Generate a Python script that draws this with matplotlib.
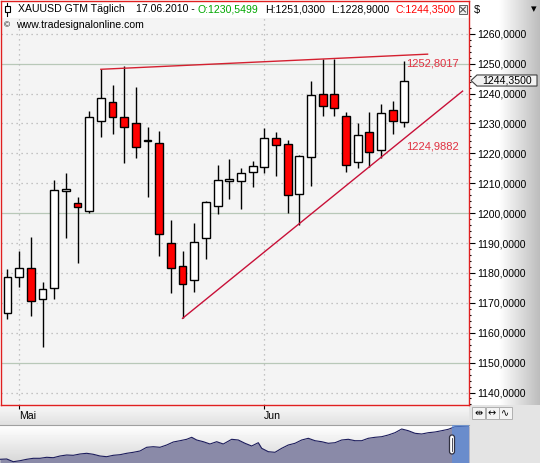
import numpy as np
import matplotlib.pyplot as plt
from matplotlib.patches import Rectangle, Polygon, FancyBboxPatch
from matplotlib.ticker import FixedLocator, FuncFormatter

plt.rcParams["font.family"] = ["Liberation Sans", "DejaVu Sans"]

# daily XAUUSD candles, 30.04.2010 .. 17.06.2010
opens  = [1166.5, 1178.5, 1181.5, 1171.3, 1174.8, 1207.5, 1203.3, 1200.6, 1230.7, 1237.1,
          1232.0, 1230.0, 1224.0, 1223.3, 1189.9, 1182.3, 1177.6, 1191.6, 1202.4, 1210.6,
          1210.6, 1213.6, 1215.5, 1225.0, 1223.0, 1206.3, 1218.7, 1239.8, 1239.8, 1232.4,
          1217.0, 1227.0, 1221.0, 1234.4, 1230.5499]
highs  = [1181.2, 1187.3, 1191.9, 1176.9, 1211.1, 1213.5, 1205.4, 1234.1, 1248.1, 1242.8,
          1249.2, 1242.1, 1228.7, 1227.6, 1197.7, 1187.3, 1196.6, 1204.1, 1216.1, 1218.1,
          1215.1, 1217.4, 1228.6, 1227.0, 1224.4, 1219.4, 1244.2, 1251.4, 1251.4, 1233.9,
          1230.0, 1233.8, 1236.5, 1237.5, 1251.03]
lows   = [1164.5, 1175.4, 1165.7, 1155.3, 1171.2, 1191.6, 1183.2, 1199.9, 1225.4, 1226.4,
          1216.7, 1218.3, 1205.5, 1185.7, 1173.4, 1164.8, 1173.7, 1184.5, 1199.7, 1204.6,
          1201.3, 1208.6, 1213.5, 1212.5, 1200.1, 1196.0, 1209.2, 1232.6, 1232.6, 1213.6,
          1215.0, 1215.5, 1218.3, 1226.4, 1228.9]
closes = [1178.5, 1181.5, 1170.5, 1174.5, 1207.6, 1207.9, 1201.9, 1232.0, 1238.4, 1232.0,
          1228.7, 1222.0, 1224.4, 1192.9, 1181.7, 1176.2, 1190.2, 1203.7, 1211.1, 1211.3,
          1213.3, 1215.7, 1225.0, 1222.7, 1206.0, 1219.0, 1239.5, 1235.9, 1235.1, 1216.0,
          1226.0, 1220.3, 1233.4, 1230.7, 1244.35]

month_labels = ["Mai", "Jun"]
month_idx = [1, 22]
price_ticks = list(range(1140, 1261, 10))

# trend lines (bar index, price)
res_x, res_y = [8, 36], [1248.1, 1253.16]
sup_x, sup_y = [15, 39], [1164.8, 1240.8]
res_label, sup_label = "1252,8017", "1224,9882"

# navigator (overview) series
nav_t = [0, 6.7, 13.3, 20, 26.7, 33.3, 40, 46.7, 53.3, 60, 66.7, 73.3, 80, 86.7, 93.3, 100,
         106.7, 113.3, 120, 126.7, 133.3, 140, 146.7, 153.3, 160, 166.7, 173.3, 180, 186.7,
         191.7, 196.7, 203.3, 210, 216.7, 223.3, 231.7, 238.3, 245, 251.7, 258.3, 261.7,
         268.3, 275, 281.7, 288.3, 295, 301.7, 308.3, 315, 321.7, 328.3, 335, 341.7, 348.3,
         355, 361.7, 368.3, 375, 381.7, 388.3, 395, 401.7, 408.3, 415, 421.7, 428.3, 435,
         441.7, 448.3, 455, 469]
nav_level = [3.7, 4, 1.3, 2.3, 3.7, 4.7, 4.7, 5.7, 5.3, 7, 8, 7.7, 9, 9.7, 8.7, 7, 6.3, 7.7,
             8.3, 9.7, 10.7, 12, 15.7, 16.3, 15.7, 18, 21, 22.3, 23.7, 25.7, 23, 21.3, 19,
             21.3, 19, 23.7, 23, 19.7, 17, 20.3, 14.7, 11.3, 10.7, 14.7, 18, 19.7, 23, 24.7,
             22.3, 21.3, 19.7, 20.3, 23, 23.7, 22.3, 22.3, 24.7, 25.7, 26.3, 28, 30.3, 34,
             32.3, 29.7, 29, 30.3, 31, 32.3, 33.7, 36.3, 37]

W, H = 540, 463
fig = plt.figure(figsize=(W / 100, H / 100), dpi=100)


def frect(x0, y0, x1, y1):
    return [x0 / W, 1 - y1 / H, (x1 - x0) / W, (y1 - y0) / H]


# background panels in pixel coordinates
bg = fig.add_axes([0, 0, 1, 1])
bg.set_zorder(0)
bg.axis("off")
hgrad = np.concatenate([np.ones(30), np.linspace(1.0, 0.74, 42)])[None, :]
bg.imshow(hgrad, extent=(469, 540, 405, 0), cmap="gray", vmin=0, vmax=1, aspect="auto")
vgrad = np.linspace(0.97, 0.88, 20)[:, None]
bg.imshow(vgrad, extent=(0, 469, 425, 405), cmap="gray", vmin=0, vmax=1, aspect="auto")
bg.add_patch(Rectangle((469, 405), 71, 58, fc="#e4e4e4", ec="none"))
bg.set_xlim(0, W)
bg.set_ylim(H, 0)
bg.text(474, 9.5, "$", fontsize=8, va="center")
bg.text(531, 9, "▾", fontsize=8, va="center", family="DejaVu Sans")
for i, sym in enumerate(["⇹", "↔", "∿"]):
    bg.add_patch(Rectangle((472 + i * 13.5, 407), 13, 12, fc="#f4f4f4", ec="#b0b0b0", lw=0.7))
    bg.text(478.5 + i * 13.5, 413, sym, fontsize=7, ha="center", va="center", family="DejaVu Sans")

# main price chart
ax = fig.add_axes(frect(1, 1, 469, 405))
ax.set_zorder(2)
ax.set_facecolor("#f4f4f4")
ax.set_xlim(-0.557, 39.55)
ax.set_ylim(1135.82, 1270.94)

for v in price_ticks:
    if v % 50 == 0:
        ax.axhline(v, color="#b8c8b8", lw=0.9, zorder=0.8)
    else:
        ax.axhline(v, color="#b4b4b4", lw=0.9, ls=(0, (1, 3)), zorder=0.8)
for m in month_idx:
    ax.axvline(m, color="#b4b4b4", lw=0.9, ls=(0, (1, 3)), zorder=0.8)

o = np.array(opens)
c = np.array(closes)
idx = np.arange(len(o))
ax.vlines(idx, lows, highs, color="black", lw=1.0, zorder=3)
body_lo = np.minimum(o, c)
body_h = np.maximum(np.abs(c - o), 0.35)
colors = np.where(c < o, "#ff0000", "#ffffff")
ax.bar(idx, body_h, bottom=body_lo, width=0.68, color=colors, edgecolor="black",
       linewidth=1.0, zorder=4)

ax.plot(res_x, res_y, color="#d42030", lw=1.0, zorder=5)
ax.plot(sup_x, sup_y, color="#c81038", lw=1.0, zorder=5)
last = len(o) - 1
res_at = res_y[0] + (last - res_x[0]) * (res_y[1] - res_y[0]) / (res_x[1] - res_x[0])
sup_at = sup_y[0] + (last - sup_x[0]) * (sup_y[1] - sup_y[0]) / (sup_x[1] - sup_x[0])
for val, lab in [(res_at, res_label), (sup_at, sup_label)]:
    ax.annotate(lab, xy=(last, val), xytext=(1.5, -2), textcoords="offset points",
                ha="left", va="top", fontsize=8, color="#e03040", zorder=6)

# right price scale
ax.yaxis.tick_right()
ax.yaxis.set_major_locator(FixedLocator(price_ticks))
ax.yaxis.set_minor_locator(FixedLocator(list(range(1136, 1263, 2))))
ax.yaxis.set_major_formatter(FuncFormatter(lambda v, p: f"{v:.0f},0000"))
ax.tick_params(axis="y", which="major", length=4.5, width=0.8, pad=1.5, labelsize=7.6)
ax.tick_params(axis="y", which="minor", length=1.5, width=0.8)
ax.set_xticks(month_idx)
ax.set_xticklabels(month_labels)
ax.tick_params(axis="x", length=3, width=0.8, pad=1.5, labelsize=7.6)
for lab in ax.get_xticklabels():
    lab.set_horizontalalignment("left")
for sp in ax.spines.values():
    sp.set_color("#e02020")
    sp.set_linewidth(1.0)


def fx(px):
    return (px - 1) / 468


def fy(py):
    return (405 - py) / 404


# header row
ax.add_patch(Rectangle((0, fy(18)), 1, 1 - fy(18), transform=ax.transAxes,
                       fc="#ffffff", ec="none", zorder=1))
ax.plot([fx(7), fx(7)], [fy(3), fy(16)], transform=ax.transAxes, color="black", lw=0.8, zorder=6)
ax.add_patch(Rectangle((fx(4.5), fy(12)), fx(9.5) - fx(4.5), fy(6) - fy(12),
                       transform=ax.transAxes, fc="white", ec="black", lw=0.8, zorder=7))
hy = fy(9.5)
head = [(18, "XAUUSD GTM Täglich", "black"), (135.5, "17.06.2010 -", "black"),
        (197, "O:1230,5499", "#00a800"), (265, "H:1251,0300", "black"),
        (331, "L:1228,9000", "black"), (395, "C:1244,3500", "#ff0000")]
for px, txt, col in head:
    ax.text(fx(px), hy, txt, transform=ax.transAxes, fontsize=7.6, va="center",
            color=col, zorder=6)
ax.add_patch(Rectangle((fx(459), fy(13.5)), fx(467) - fx(459), fy(5.5) - fy(13.5),
                       transform=ax.transAxes, fc="#f0f0f0", ec="#606060", lw=0.7, zorder=6))
ax.plot([fx(460.5), fx(465.5)], [fy(12), fy(7)], transform=ax.transAxes, color="#404040", lw=0.7, zorder=7)
ax.plot([fx(460.5), fx(465.5)], [fy(7), fy(12)], transform=ax.transAxes, color="#404040", lw=0.7, zorder=7)
ax.text(fx(3.5), fy(25.5), "©", transform=ax.transAxes, fontsize=6, va="center", zorder=6)
ax.text(fx(16.5), fy(25.5), "www.tradesignalonline.com", transform=ax.transAxes,
        fontsize=7.6, va="center", zorder=6)

# last price tag on the scale
tag_h = 1.85
tag = Polygon([(fx(471), c[-1]), (fx(477), c[-1] + tag_h), (fx(537), c[-1] + tag_h),
               (fx(537), c[-1] - tag_h), (fx(477), c[-1] - tag_h)],
              closed=True, transform=ax.get_yaxis_transform(), fc="#f2f2f2", ec="#404040",
              lw=0.8, clip_on=False, zorder=8)
ax.add_patch(tag)
ax.text(fx(507), c[-1], f"{c[-1]:.4f}".replace(".", ","), transform=ax.get_yaxis_transform(),
        ha="center", va="center", fontsize=7.6, clip_on=False, zorder=9)

# navigator strip
nav = fig.add_axes(frect(0, 425, 469, 463))
nav.set_zorder(2)
nav.imshow(np.linspace(1.0, 0.84, 38)[:, None], extent=(0, 469, 0, 38), cmap="gray",
           vmin=0, vmax=1, aspect="auto", zorder=0)
nav.fill_between(nav_t, nav_level, 0, color="#8a8aa8", lw=0, zorder=1)
nav.plot(nav_t, nav_level, color="#1c1c5c", lw=0.8, zorder=2)
nav.axvspan(452, 469, color="#5a8ee0", alpha=0.65, lw=0, zorder=3)
nav.add_patch(FancyBboxPatch((449.5, 9), 5, 19, boxstyle="round,pad=0,rounding_size=2.5",
                             fc="white", ec="#303040", lw=0.9, zorder=4))
nav.plot([452, 452], [12, 25], color="#303040", lw=0.6, zorder=5)
nav.set_xlim(0, 469)
nav.set_ylim(0, 38)
nav.set_xticks([])
nav.set_yticks([])
for name, sp in nav.spines.items():
    sp.set_visible(name == "top")
    sp.set_color("#a0a0a0")

fig.savefig("out.png", dpi=100)
